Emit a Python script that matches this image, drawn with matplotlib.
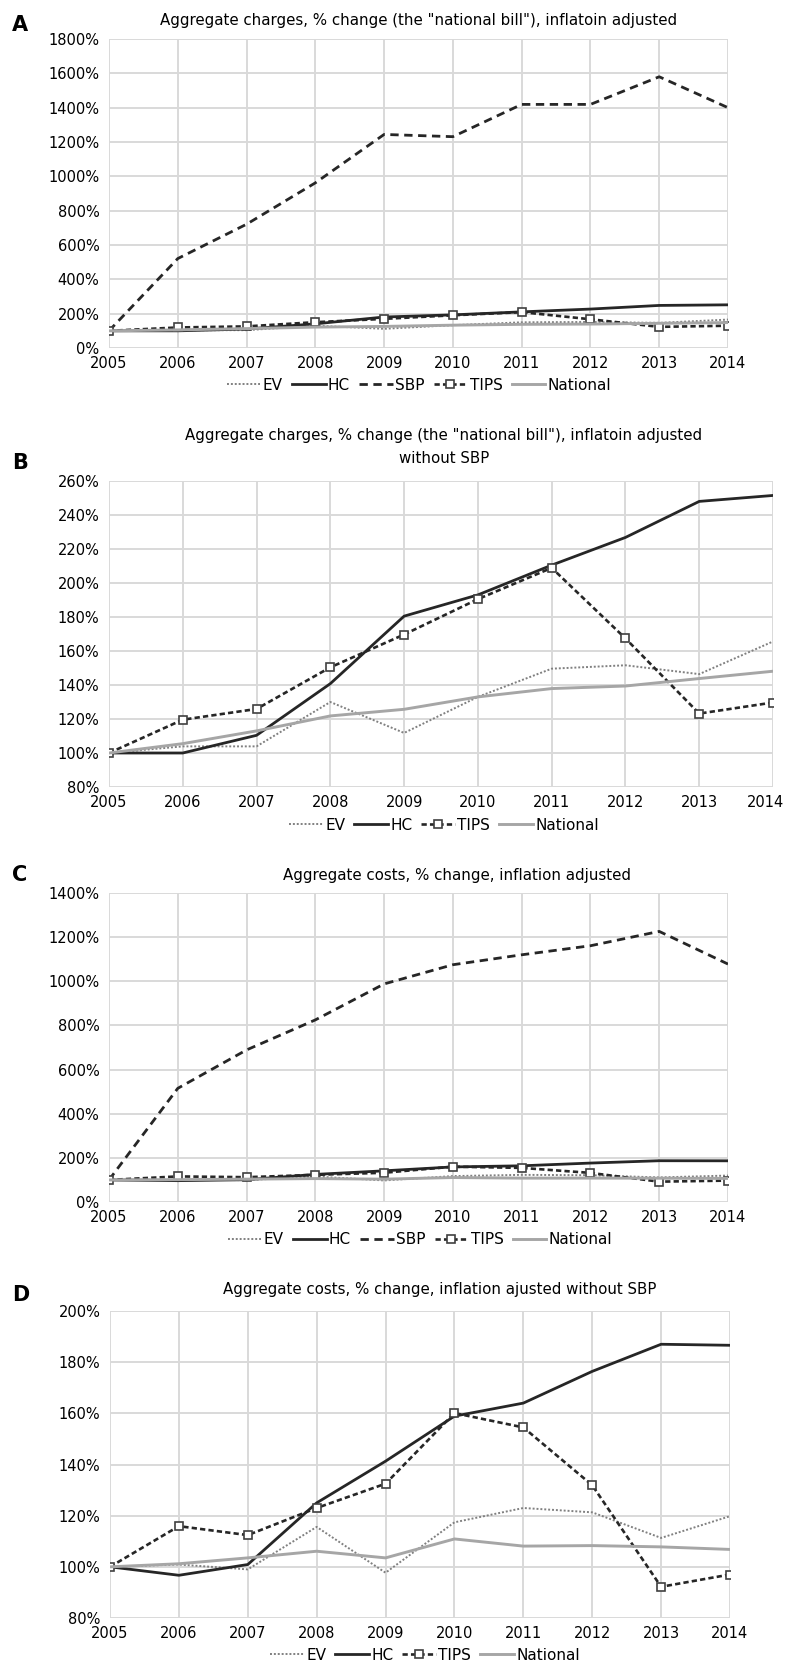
import matplotlib
matplotlib.use('Agg')
import matplotlib.pyplot as plt
import matplotlib.transforms as mtransforms
from matplotlib.ticker import FuncFormatter

# data (values in % of 2005)
years = [2005, 2006, 2007, 2008, 2009, 2010, 2011, 2012, 2013, 2014]

# charges (panels A and B)
ch_ev = [100, 103.9, 103.9, 130, 111.8, 133, 149.6, 151.6, 146.4, 165.6]
ch_hc = [100, 100, 110.4, 140.8, 180.5, 193, 210.5, 226.8, 248, 251.5]
ch_sbp = [100, 521, 721, 962, 1244, 1231, 1419, 1419, 1580, 1400]
ch_tips = [100, 119.6, 125.9, 150.4, 169.7, 190.5, 208.9, 167.4, 123.2, 129.7]
ch_nat = [100, 105.5, 113, 121.8, 125.7, 133, 137.9, 139.4, 143.8, 148.1]

# costs (panels C and D)
co_ev = [100, 100.9, 99, 115.6, 97.7, 117.4, 123, 121.3, 111.3, 119.8]
co_hc = [100, 96.7, 100.9, 125, 141.3, 158.9, 164, 176.4, 187, 186.6]
co_sbp = [100, 515, 689, 825, 988, 1075, 1120, 1161, 1226, 1078]
co_tips = [100, 115.9, 112.4, 123, 132.5, 160.1, 154.5, 131.9, 92.2, 97]
co_nat = [100, 101.2, 103.5, 106.1, 103.5, 110.9, 108.1, 108.3, 107.8, 106.8]

titles = [
    'Aggregate charges, % change (the "national bill"), inflatoin adjusted',
    'Aggregate charges, % change (the "national bill"), inflatoin adjusted\nwithout SBP',
    'Aggregate costs, % change, inflation adjusted',
    'Aggregate costs, % change, inflation ajusted without SBP',
]

W, H = 787, 1669
fig = plt.figure(figsize=(W / 100, H / 100), dpi=100)
plt.rcParams['font.family'] = ['DejaVu Sans']


def px_axes(left, right, top, bottom):
    return fig.add_axes([left / W, 1 - bottom / H, (right - left) / W, (bottom - top) / H])


def draw(ax, ev, hc, tips, nat, sbp=None, ylim=(0, 100), ystep=20):
    ax.plot(years, ev, color='#808080', lw=1.4, linestyle=(0, (1, 1)), label='EV')
    ax.plot(years, hc, color='#262626', lw=2.0, label='HC')
    if sbp is not None:
        ax.plot(years, sbp, color='#262626', lw=2.0, linestyle=(0, (3, 2)), label='SBP')
    ax.plot(years, tips, color='#262626', lw=1.9, linestyle=(0, (2, 1.2)),
            marker='s', markersize=6, markerfacecolor='white', markeredgecolor='#404040',
            markeredgewidth=1.2, label='TIPS')
    ax.plot(years, nat, color='#a6a6a6', lw=2.1, label='National')
    ax.set_xlim(2005, 2014)
    ax.set_ylim(*ylim)
    ax.set_xticks(years)
    ax.set_yticks(range(ylim[0], ylim[1] + 1, ystep))
    ax.yaxis.set_major_formatter(FuncFormatter(lambda v, p: f"{v:.0f}%"))
    ax.grid(True, color='#d9d9d9', lw=1.4)
    ax.set_axisbelow(True)
    for s in ax.spines.values():
        s.set_visible(False)
    ax.tick_params(length=0, labelsize=10.5, colors='black', pad=7)
    ax.tick_params(axis='x', pad=6)


axA = px_axes(109, 728, 39, 348)
draw(axA, ch_ev, ch_hc, ch_tips, ch_nat, sbp=ch_sbp, ylim=(0, 1800), ystep=200)
axB = px_axes(109, 773, 481, 787)
draw(axB, ch_ev, ch_hc, ch_tips, ch_nat, ylim=(80, 260), ystep=20)
axC = px_axes(109, 728, 893, 1202)
draw(axC, co_ev, co_hc, co_tips, co_nat, sbp=co_sbp, ylim=(0, 1400), ystep=200)
axD = px_axes(110, 730, 1311, 1618)
draw(axD, co_ev, co_hc, co_tips, co_nat, ylim=(80, 200), ystep=20)

# last x label of panel B sits inside the figure edge
last = axB.get_xticklabels()[-1]
last.set_transform(last.get_transform() + mtransforms.ScaledTranslation(-8 / 100, 0, fig.dpi_scale_trans))

# titles, panel letters, legends (pixel positions)
title_pos = [(419, 20), (444, 447), (457, 875), (440, 1289)]
letter_pos = [25, 463, 875, 1295]
legend_pos = [(419, 385), (444, 825), (420, 1240), (425, 1655)]
for ax, t, (tx, ty), ly, lab, (gx, gy) in zip([axA, axB, axC, axD], titles, title_pos,
                                             letter_pos, 'ABCD', legend_pos):
    fig.text(tx / W, 1 - ty / H, t, ha='center', va='center', fontsize=10.8,
             linespacing=1.6)
    fig.text(12 / W, 1 - ly / H, lab, ha='left', va='center', fontsize=15, fontweight='bold')
    h, l = ax.get_legend_handles_labels()
    fig.legend(h, l, loc='center', bbox_to_anchor=(gx / W, 1 - gy / H), ncol=len(h),
               frameon=False, fontsize=11, handlelength=2.2, handletextpad=0.15,
               columnspacing=0.6, borderpad=0, borderaxespad=0)

fig.savefig('out.png', dpi=100)
